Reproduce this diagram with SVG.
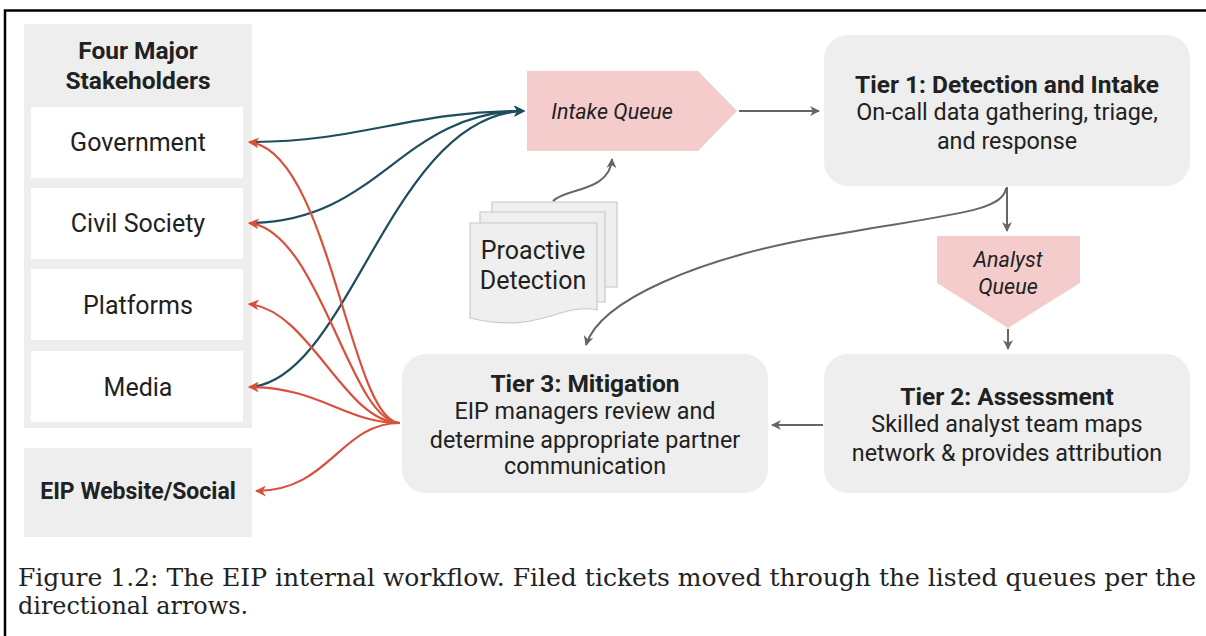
<svg xmlns="http://www.w3.org/2000/svg" width="1206" height="636" viewBox="0 0 1206 636">
<style>
.t{font-family:Roboto,"Liberation Sans",sans-serif;fill:#212121;text-anchor:middle}
.b{font-weight:bold}
.i{font-style:italic}
.panel{fill:#eeeeee}
.wbox{fill:#ffffff}
.tier{fill:#eeeeee}
.queue{fill:#f4cccc}
.doc{fill:#efefef;stroke:#c8c8c8;stroke-width:1.2}
.blue{fill:none;stroke:#1e4d5e;stroke-width:2.2}
.red{fill:none;stroke:#d9503a;stroke-width:2.2}
.gray{fill:none;stroke:#666666;stroke-width:2}
.cap{font-family:"DejaVu Serif","Liberation Serif",serif;fill:#222;font-size:24px}
</style>
<defs>
<marker id="ab" viewBox="0 0 10 10" refX="9" refY="5" markerWidth="5" markerHeight="5" orient="auto"><path d="M0,0 L10,5 L0,10 L3,5 Z" fill="#1e4d5e"/></marker>
<marker id="ar" viewBox="0 0 10 10" refX="9" refY="5" markerWidth="5" markerHeight="5" orient="auto"><path d="M0,0 L10,5 L0,10 L3,5 Z" fill="#d9503a"/></marker>
<marker id="ag" viewBox="0 0 10 10" refX="9" refY="5" markerWidth="5" markerHeight="5" orient="auto"><path d="M0,0 L10,5 L0,10 L3,5 Z" fill="#666666"/></marker>
</defs>
<rect width="1206" height="636" fill="#ffffff"/>
<path d="M5,636 L5,10.5 L1206,10.5" fill="none" stroke="#000" stroke-width="2.5"/>

<g id="stakeholders">
<rect class="panel" x="24" y="24" width="228" height="404"/>
<text class="t b" x="138" y="59" font-size="24.5">Four Major</text>
<text class="t b" x="138" y="89" font-size="24.5">Stakeholders</text>
</g>
<g id="government"><rect class="wbox" x="31" y="107" width="212" height="71"/><text class="t" x="138" y="151" font-size="25">Government</text></g>
<g id="civil-society"><rect class="wbox" x="31" y="188" width="212" height="71"/><text class="t" x="138" y="232" font-size="25">Civil Society</text></g>
<g id="platforms"><rect class="wbox" x="31" y="269" width="212" height="71"/><text class="t" x="138" y="314" font-size="25">Platforms</text></g>
<g id="media"><rect class="wbox" x="31" y="351" width="212" height="71"/><text class="t" x="138" y="396" font-size="25">Media</text></g>
<g id="eip-website"><rect class="panel" x="24" y="448" width="228" height="89"/><text class="t b" x="138" y="499" font-size="23">EIP Website/Social</text></g>

<g id="intake-queue"><path class="queue" d="M527,71 L698,71 L737,111 L698,151 L527,151 Z"/><text class="t i" x="612" y="119" font-size="21.5">Intake Queue</text></g>

<g id="proactive-detection">
<path class="doc" d="M492,202 L617,202 L617,287 L492,287 Z"/>
<path class="doc" d="M480,212 L605,212 L605,302 L480,302 Z"/>
<path class="doc" d="M470,223 L597,223 L597,310 C560,302 540,335 470,318 Z"/>
<text class="t" x="533" y="259" font-size="25">Proactive</text>
<text class="t" x="533" y="289" font-size="25">Detection</text>
</g>

<g id="tier1"><rect class="tier" x="824" y="35" width="366" height="151" rx="24"/>
<text class="t b" x="1007" y="93" font-size="24.5">Tier 1: Detection and Intake</text>
<text class="t" x="1007" y="120" font-size="23.3">On-call data gathering, triage,</text>
<text class="t" x="1007" y="149" font-size="23.3">and response</text></g>

<g id="analyst-queue"><path class="queue" d="M937,236 L1080,236 L1080,283 L1008,328 L937,283 Z"/>
<text class="t i" x="1008" y="267" font-size="21.5">Analyst</text>
<text class="t i" x="1008" y="294" font-size="21.5">Queue</text></g>

<g id="tier2"><rect class="tier" x="824" y="354" width="366" height="139" rx="24"/>
<text class="t b" x="1007" y="405" font-size="24.5">Tier 2: Assessment</text>
<text class="t" x="1007" y="432" font-size="23.3">Skilled analyst team maps</text>
<text class="t" x="1007" y="461" font-size="23.3">network &amp; provides attribution</text></g>

<g id="tier3"><rect class="tier" x="402" y="354" width="366" height="139" rx="24"/>
<text class="t b" x="585" y="392" font-size="24.5">Tier 3: Mitigation</text>
<text class="t" x="585" y="419" font-size="23.3">EIP managers review and</text>
<text class="t" x="585" y="448" font-size="23.3">determine appropriate partner</text>
<text class="t" x="585" y="474" font-size="23.3">communication</text></g>

<g id="connectors">
<path class="blue" d="M250,142 C360,142 410,111 524,111" marker-end="url(#ab)"/>
<path class="blue" d="M250,223 C380,222 400,112 524,111" marker-end="url(#ab)"/>
<path class="blue" d="M250,387 C350,380 390,115 524,111" marker-end="url(#ab)"/>
<path class="red" d="M400,423 C350,423 330,150 249,142" marker-end="url(#ar)"/>
<path class="red" d="M400,423 C350,423 320,230 249,223" marker-end="url(#ar)"/>
<path class="red" d="M400,423 C345,423 310,310 249,304" marker-end="url(#ar)"/>
<path class="red" d="M400,423 C345,423 320,387 249,387" marker-end="url(#ar)"/>
<path class="red" d="M400,423 C340,423 330,491 256,491" marker-end="url(#ar)"/>
<path class="gray" d="M739,111 L819,111" marker-end="url(#ag)"/>
<path class="gray" d="M553,201 C565,188 610,192 612,159" marker-end="url(#ag)"/>
<path class="gray" d="M1007,187 L1007,231" marker-end="url(#ag)"/>
<path class="gray" d="M1008,329 L1008,349" marker-end="url(#ag)"/>
<path class="gray" d="M823,425 L772,425" marker-end="url(#ag)"/>
<path class="gray" d="M1006,188 C1003,212 950,214 820,237 C700,258 600,300 586,345" marker-end="url(#ag)"/>
</g>

<text class="cap" x="18" y="586" textLength="1178" lengthAdjust="spacingAndGlyphs">Figure 1.2: The EIP internal workflow.  Filed tickets moved through the listed queues per the</text>
<text class="cap" x="18" y="614" textLength="230" lengthAdjust="spacingAndGlyphs">directional arrows.</text>
</svg>
